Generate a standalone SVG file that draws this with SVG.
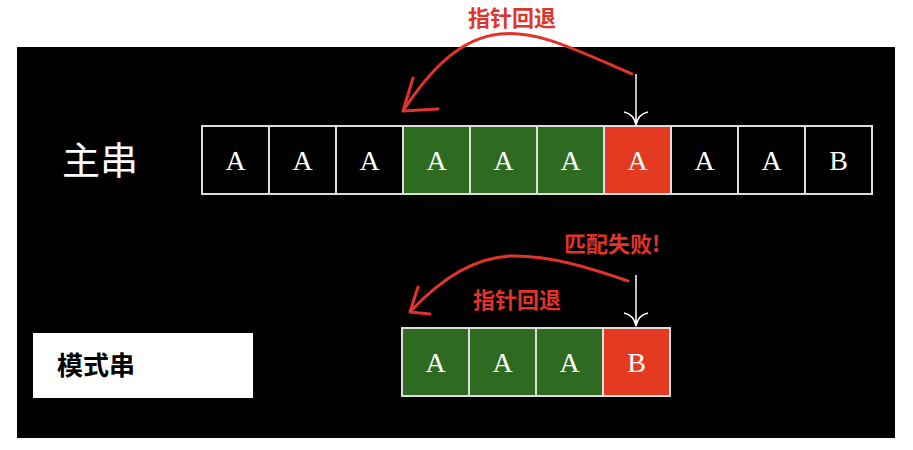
<svg xmlns="http://www.w3.org/2000/svg" width="913" height="450" viewBox="0 0 913 450">
<style>
.c{stroke:#ddd;stroke-width:2}
.k{fill:#000}.g{fill:#2e6a1f}.r{fill:#e43a22}
.t{font-family:"Liberation Serif",serif;font-size:28px;fill:#fff;text-anchor:middle}
.lab{font-family:"Noto Sans CJK SC",sans-serif;font-weight:bold;fill:#e0342a;font-size:22px;text-anchor:middle}
.ra{fill:none;stroke:#e0342a;stroke-width:3;stroke-linecap:round}
.wa{fill:none;stroke:#fff;stroke-width:1.5}
</style>
<rect width="913" height="450" fill="#fff"/>
<rect x="17" y="47" width="878" height="391" fill="#000"/>
<text x="100" y="174" font-family="Noto Sans CJK SC,sans-serif" font-size="38" fill="#fff" text-anchor="middle">主串</text>
<g id="pattern-label"><rect x="33" y="333" width="220" height="65" fill="#fff"/>
<text x="57" y="375" font-family="Noto Sans CJK SC,sans-serif" font-weight="bold" font-size="26" fill="#000">模式串</text></g>
<g id="main">
<rect class="c k" x="202" y="126" width="67" height="68"/><text class="t" x="235.5" y="170">A</text>
<rect class="c k" x="269" y="126" width="67" height="68"/><text class="t" x="302.5" y="170">A</text>
<rect class="c k" x="336" y="126" width="67" height="68"/><text class="t" x="369.5" y="170">A</text>
<rect class="c g" x="403" y="126" width="67" height="68"/><text class="t" x="436.5" y="170">A</text>
<rect class="c g" x="470" y="126" width="67" height="68"/><text class="t" x="503.5" y="170">A</text>
<rect class="c g" x="537" y="126" width="67" height="68"/><text class="t" x="570.5" y="170">A</text>
<rect class="c r" x="604" y="126" width="67" height="68"/><text class="t" x="637.5" y="170">A</text>
<rect class="c k" x="671" y="126" width="67" height="68"/><text class="t" x="704.5" y="170">A</text>
<rect class="c k" x="738" y="126" width="67" height="68"/><text class="t" x="771.5" y="170">A</text>
<rect class="c k" x="805" y="126" width="67" height="68"/><text class="t" x="838.5" y="170">B</text>
</g>
<g id="pattern">
<rect class="c g" x="402" y="328" width="67" height="68"/><text class="t" x="435.5" y="372">A</text>
<rect class="c g" x="469" y="328" width="67" height="68"/><text class="t" x="502.5" y="372">A</text>
<rect class="c g" x="536" y="328" width="67" height="68"/><text class="t" x="569.5" y="372">A</text>
<rect class="c r" x="603" y="328" width="67" height="68"/><text class="t" x="636.5" y="372">B</text>
</g>
<g id="connectors">
<path class="ra" d="M632 74 C580 52 540 30 500 34 C460 38 430 70 403 111 M403 111 L413 78 M403 111 L438 109"/>
<path class="wa" d="M636 74 V125 M624 112 Q634 114 636 125 Q638 114 648 112"/>
<path class="ra" d="M628 281 C590 268 550 255 510 256 C470 258 435 285 410 312 M410 312 L418 287 M410 312 L430 314"/>
<path class="wa" d="M636 275 V326 M624 313 Q634 315 636 326 Q638 315 648 313"/>
</g>
<text class="lab" x="512" y="26">指针回退</text>
<text class="lab" x="612" y="252">匹配失败!</text>
<text class="lab" x="517" y="308">指针回退</text>
</svg>
